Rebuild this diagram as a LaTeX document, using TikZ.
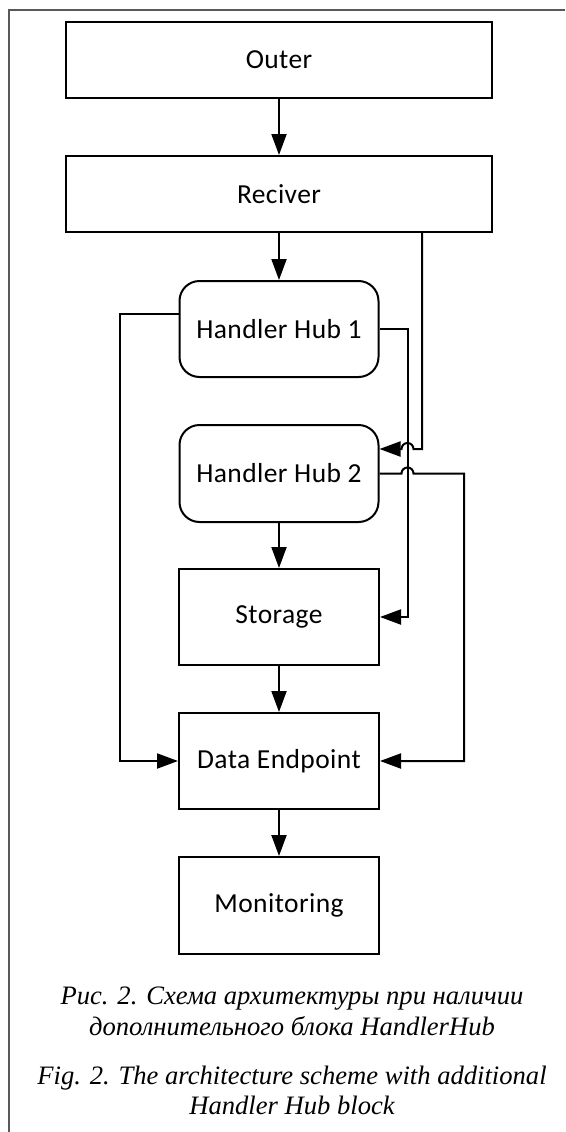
\documentclass[tikz,border=0pt]{standalone}
\usepackage{fontspec}
\newfontfamily\boxfont[LetterSpace=1.5]{Carlito}
\newfontfamily\capfont{Liberation Serif}
\usetikzlibrary{arrows.meta,calc}
\begin{document}
\begin{tikzpicture}[x=1pt,y=-1pt,
  blk/.style={draw=black, line width=2pt, inner sep=0pt,
    font=\boxfont\fontsize{27.5}{32}\selectfont,
    minimum width=200pt, minimum height=96pt},
  wide/.style={blk, minimum width=426pt, minimum height=76pt},
  hub/.style={blk, rounded corners=20pt, minimum width=199pt},
  link/.style={line width=2pt, -{Triangle[length=21pt,width=15pt]}},
  captxt/.style={font=\capfont\itshape\fontsize{26.6}{31}\selectfont,
    anchor=base, inner sep=0pt},
  frameline/.style={draw=black!65, line width=1.8pt}]
\useasboundingbox (0,0) rectangle (565,1132);

% cell frame
\draw[frameline] (9,1132) -- (9,10) -- (565,10);

% blocks
\node[wide] (outer) at (279,60)    {Outer};
\node[wide] (rec)   at (279,194)   {Reciver};
\node[hub]  (hh1)   at (279,329)   {Handler Hub 1};
\node[hub, minimum height=97pt] (hh2) at (279,473.5) {Handler Hub 2};
\node[blk]  (sto)   at (279,617)   {Storage};
\node[blk]  (de)    at (279,761)   {Data Endpoint};
\node[blk, minimum height=97pt] (mon) at (279,905.5) {Monitoring};

% main vertical chain
\draw[link] (outer) -- (rec);
\draw[link] (rec) -- (hh1);
\draw[link] (hh2) -- (sto);
\draw[link] (sto) -- (de);
\draw[link] (de) -- (mon);

% Reciver -> Handler Hub 2 (hops over the HH1 -> Storage line)
\draw[link] ($(rec.south east)+(-71,0)$) |- ($(hh2.east)+(34,-24.5)$)
  arc[start angle=0, end angle=180, radius=6pt] -- ($(hh2.east)+(0,-24.5)$);

% Handler Hub 1 -> Storage
\draw[link] (hh1.east) -| ($(sto.east)+(28,0)$) -- (sto.east);

% Handler Hub 1 -> Data Endpoint
\draw[link] ($(hh1.west)+(0,-15)$) -| ($(de.west)+(-58,0)$) -- (de.west);

% Handler Hub 2 -> Data Endpoint (hops over the HH1 -> Storage line)
\draw[link] (hh2.east) -- ++(22,0)
  arc[start angle=180, end angle=0, radius=6pt] -| ($(de.east)+(84,0)$) -- (de.east);

% caption
\node[captxt] (capRu1) at (292,1004) {Рис. 2. Схема архитектуры при наличии};
\node[captxt] (capRu2) at (292,1035) {дополнительного блока HandlerHub};
\node[captxt] (capEn1) at (292,1084) {Fig. 2. The architecture scheme with additional};
\node[captxt] (capEn2) at (292,1114) {Handler Hub block};
\end{tikzpicture}
\end{document}
